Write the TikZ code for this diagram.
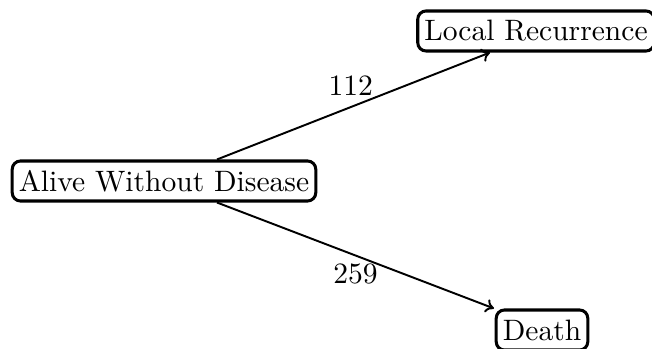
\documentclass[tikz,border=0pt]{standalone}
\usetikzlibrary{calc,arrows.meta}
\begin{document}
\begin{tikzpicture}[x=0.3623pt,y=-0.3623pt,
  state/.style={draw,rounded corners=3pt,line width=1.1pt,inner xsep=2.4pt,inner ysep=0pt,minimum height=14.5pt,font=\fontsize{10.7}{12.8}\selectfont},
  trans/.style={-{To[length=3pt,width=5pt]},line width=0.7pt},
  lab/.style={font=\fontsize{10.7}{12.8}\selectfont,inner sep=0pt}]
\useasboundingbox (0,0) rectangle (652,349);
\node[state] (alive) at (164,181) {Alive Without Disease};
\node[state] (local) at (536,31) {Local Recurrence};
\node[state] (death) at (542,330) {Death};
\coordinate (a1) at ($(alive.north)+(53,0)$);
\coordinate (a2) at ($(alive.south)+(53,0)$);
\coordinate (l1) at ($(local.south)+(-46,0)$);
\coordinate (d1) at ($(death.north)+(-48,0)$);
\draw[trans] (a1) -- node[lab,above=3.8pt,pos=0.49] {112} (l1);
\draw[trans] (a2) -- node[lab,below=2.6pt,pos=0.5] {259} (d1);
\end{tikzpicture}
\end{document}
